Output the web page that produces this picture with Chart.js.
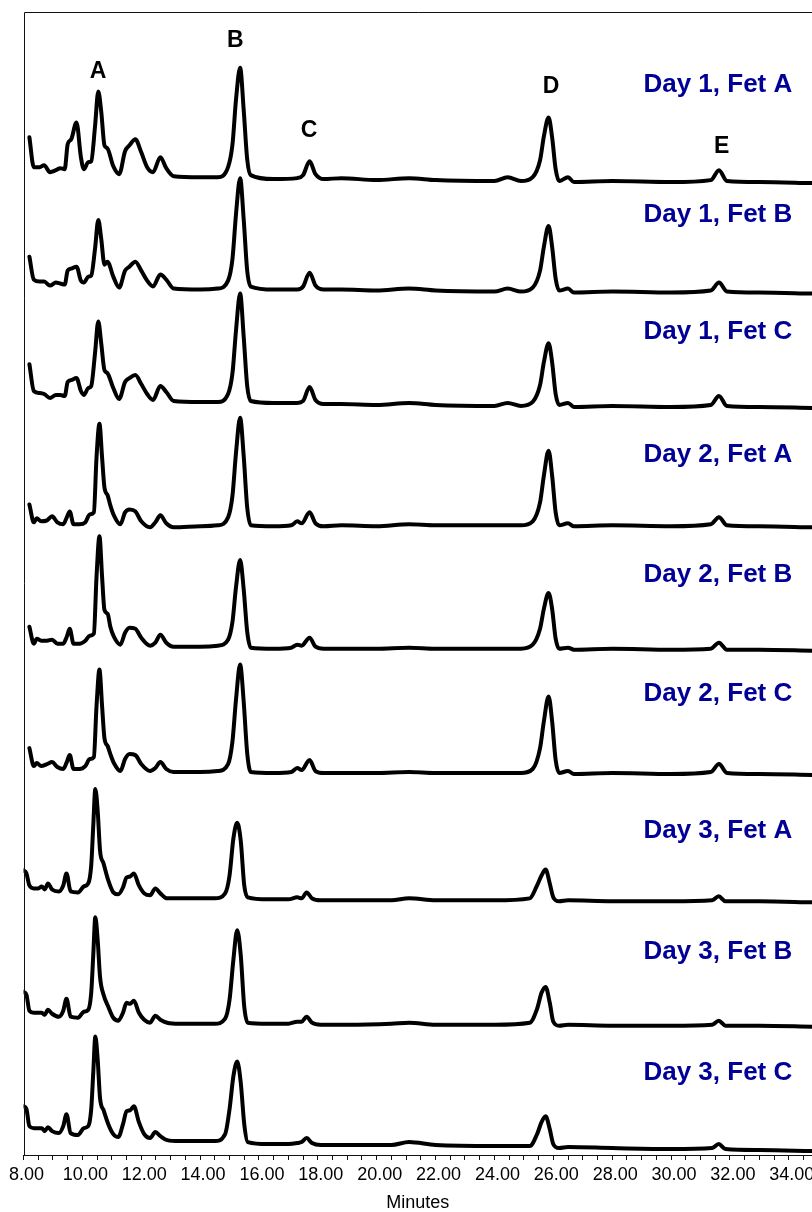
<!DOCTYPE html>
<html>
<head>
<meta charset="utf-8">
<script src="https://cdn.jsdelivr.net/npm/chart.js@4/dist/chart.umd.min.js"></script>
<style>
html,body{margin:0;padding:0;background:#fff;}
#wrap{width:812px;height:1212px;}
</style>
</head>
<body>
<div id="wrap"><canvas id="chart"></canvas></div>
<script>
// sample names, top to bottom
const sampleNames = ['Day 1, Fet A','Day 1, Fet B','Day 1, Fet C','Day 2, Fet A','Day 2, Fet B','Day 2, Fet C','Day 3, Fet A','Day 3, Fet B','Day 3, Fet C'];

// retention times (minutes) of the read points, one grid per day
const day1Times = [8.2,8.35,8.55,8.7,8.9,9.1,9.25,9.4,9.5,9.62,9.8,9.95,10.05,10.2,10.3,10.43,10.54,10.64,10.75,10.85,11.05,11.25,11.45,11.6,11.8,12.0,12.2,12.4,12.65,12.85,13.1,14.0,14.6,14.95,15.1,15.22,15.36,15.48,15.6,15.72,16.5,17.3,17.5,17.72,17.92,18.2,18.8,20.0,21.1,22.0,24.0,24.45,24.9,25.3,25.55,25.68,25.84,25.96,26.08,26.2,26.5,26.7,28.0,30.0,31.35,31.63,31.9,33.0,34.8];
const day2Times = [8.2,8.35,8.45,8.6,8.8,8.97,9.15,9.35,9.47,9.57,9.7,9.9,10.1,10.25,10.39,10.48,10.58,10.67,10.75,10.86,10.95,11.07,11.29,11.45,11.6,11.8,12.0,12.3,12.48,12.65,12.85,13.1,14.0,14.6,14.95,15.1,15.22,15.36,15.48,15.6,15.72,16.5,17.1,17.3,17.45,17.72,17.92,18.2,18.8,20.0,21.1,22.0,24.0,24.9,25.3,25.55,25.68,25.84,25.96,26.08,26.2,26.5,26.7,28.0,30.0,31.35,31.63,31.9,33.0,34.8];
const day3Times = [8.0,8.1,8.2,8.35,8.5,8.62,8.72,8.83,8.97,9.2,9.35,9.46,9.6,9.85,10.05,10.2,10.3,10.37,10.44,10.52,10.6,10.72,10.88,11.05,11.22,11.38,11.5,11.62,11.75,11.92,12.1,12.3,12.48,12.65,12.88,13.3,14.0,14.5,14.85,15.0,15.13,15.26,15.38,15.5,15.62,16.3,17.0,17.3,17.45,17.62,17.8,18.1,19.0,20.5,21.1,22.0,24.0,25.2,25.45,25.6,25.74,25.88,26.0,26.2,26.5,28.0,30.0,31.4,31.62,31.85,33.0,34.8];

// detector signal above each trace's own baseline
const d1FetA = [45,15,15,17,10,12,14,13,38,43,60,25,13,20,21,56,91,71,37,34,16,8,31,37,43,30,15,10,25,14,6,5,5,15,38,83,115,73,23,7,3,4,7,21,8,3,4,2,4,2,1,5,1,5,22,46,65,45,13,1,5,0,1,0,2,12,1,0,-1];
const d1FetB = [36,13,11,11,7,10,9,8,22,24,26,12,10,16,17,44,73,54,28,31,16,5,22,26,31,22,12,6,18,13,4,3,4,12,34,79,115,74,22,6,3,3,6,20,7,3,3,2,4,2,1,4,1,5,22,46,67,46,14,2,4,0,1,0,2,10,1,0,-1];
const d1FetC = [43,16,14,13,9,12,12,11,25,27,29,16,12,19,21,54,86,64,37,34,19,8,25,29,32,23,13,7,21,15,6,5,5,13,34,77,114,71,21,6,4,4,6,20,7,3,3,2,4,2,1,4,1,5,22,45,64,45,13,2,4,0,1,0,2,11,1,0,-1];
const d2FetA = [21,3,7,4,5,9,3,1,8,14,1,1,3,11,13,68,102,68,38,30,20,10,1,13,16,14,4,-2,3,10,2,-2,-1,0,8,30,73,108,70,18,0,-1,0,4,2,13,2,-1,0,-1,1,0,0,0,4,23,50,75,50,13,0,2,-1,0,-1,1,8,0,-1,-2];
const d2FetB = [22,5,10,8,8,9,5,5,12,20,5,5,8,13,15,72,113,72,39,35,22,12,4,16,21,20,11,3,6,14,6,2,2,3,9,27,62,89,60,17,1,0,1,4,3,11,2,0,0,0,1,0,0,0,4,20,40,56,40,10,0,1,-1,0,-1,0,6,-1,-1,-2];
const d2FetC = [25,7,10,7,9,11,6,4,11,18,4,4,7,14,16,67,104,67,35,27,19,10,2,14,19,18,9,2,5,11,4,1,1,2,9,32,74,109,72,20,1,0,1,5,3,13,2,0,0,0,1,0,0,0,4,25,52,77,52,13,0,2,-1,0,-1,1,9,0,-1,-2];
const d3FetA = [30,27,15,12,12,14,11,17,11,9,15,27,9,8,14,17,35,75,112,90,50,37,20,8,6,13,23,24,27,15,7,5,12,7,2,2,2,2,7,25,62,78,60,15,3,1,1,3,2,8,2,0,0,0,2,0,0,2,15,25,31,17,3,-1,0,-1,-1,0,4,-1,-1,-2];
const d3FetB = [33,30,14,12,12,12,10,15,11,8,14,26,8,7,13,15,32,70,108,85,48,30,18,7,4,12,22,21,24,12,5,2,9,5,2,1,1,1,6,25,65,95,70,18,2,1,1,3,3,8,2,0,0,1,2,0,0,2,16,32,38,22,3,-1,0,-1,-1,0,4,-1,-1,-2];
const d3FetC = [43,40,23,21,21,21,18,22,18,16,23,35,16,14,21,23,40,77,113,90,51,39,25,15,12,25,38,39,43,27,15,11,17,13,9,8,8,8,15,40,73,88,67,25,7,5,5,6,7,11,6,4,4,4,7,4,3,3,15,27,33,20,5,1,2,1,0,1,5,0,-1,-2];

// stacking offset of each trace and where its name sits above it
const traceOffsets = [978,867,752,633,509,384,256,131,6];
const labelLift = [91,71,68,64,67,72,63,66,69];

// peak letters
const peakNames = ['A','B','C','D','E'];
const peakTimes = [10.53,15.2,17.7,25.92,31.72];
const peakLabelLevel = [1083,1114,1023,1068,1007];

const majorTicks = [8,10,12,14,16,18,20,22,24,26,28,30,32,34];

const traceTimes = [day1Times,day1Times,day1Times,day2Times,day2Times,day2Times,day3Times,day3Times,day3Times];
const traceValues = [d1FetA,d1FetB,d1FetC,d2FetA,d2FetB,d2FetC,d3FetA,d3FetB,d3FetC];

const datasets = sampleNames.map((name, i) => ({
  label: name,
  data: traceTimes[i].map((t, j) => ({x: t, y: traceValues[i][j] + traceOffsets[i]})),
  borderColor: '#000',
  borderWidth: 4,
  borderJoinStyle: 'round',
  borderCapStyle: 'round',
  pointRadius: 0,
  cubicInterpolationMode: 'monotone',
  fill: false
}));

const fontFam = '"Liberation Sans", Arial, Helvetica, sans-serif';

const decor = {
  id: 'decor',
  afterDraw(chart) {
    const {ctx, chartArea: a, scales: {x, y}} = chart;
    ctx.save();
    // frame: top and left
    ctx.strokeStyle = '#111';
    ctx.lineWidth = 1;
    ctx.beginPath();
    ctx.moveTo(Math.round(a.left) + 0.5, a.bottom);
    ctx.lineTo(Math.round(a.left) + 0.5, Math.round(a.top) + 0.5);
    ctx.lineTo(a.right, Math.round(a.top) + 0.5);
    ctx.stroke();

    ctx.textBaseline = 'alphabetic';
    ctx.fillStyle = '#000';
    ctx.textAlign = 'center';
    ctx.font = 'bold 23px ' + fontFam;
    peakNames.forEach((n, i) => {
      ctx.fillText(n, x.getPixelForValue(peakTimes[i]), y.getPixelForValue(peakLabelLevel[i]));
    });

    ctx.fillStyle = '#000096';
    ctx.textAlign = 'right';
    ctx.font = 'bold 26px ' + fontFam;
    sampleNames.forEach((n, i) => {
      ctx.fillText(n, x.getPixelForValue(34.12), y.getPixelForValue(traceOffsets[i] + labelLift[i]));
    });
    ctx.restore();
  }
};

new Chart(document.getElementById('chart'), {
  type: 'line',
  data: {datasets: datasets},
  options: {
    responsive: true,
    maintainAspectRatio: false,
    animation: false,
    layout: {padding: {left: 23, top: 12, right: 0, bottom: 0}},
    plugins: {legend: {display: false}, tooltip: {enabled: false}},
    scales: {
      x: {
        type: 'linear',
        min: 8,
        max: 34.79,
        border: {display: true, color: '#111', width: 1},
        grid: {drawOnChartArea: false, drawTicks: true, tickLength: 5, color: '#111'},
        afterBuildTicks: scale => {
          const ticks = [];
          for (let v = 8; v <= 34.5; v += 0.5) ticks.push({value: v});
          scale.ticks = ticks;
        },
        ticks: {
          autoSkip: false, maxRotation: 0, minRotation: 0,
          padding: 6, labelOffset: 3, color: '#000',
          font: {family: fontFam, size: 18, lineHeight: 1},
          callback: v => majorTicks.includes(v) ? v.toFixed(2) : ''
        },
        title: {
          display: true, text: 'Minutes', color: '#000',
          font: {family: fontFam, size: 18, lineHeight: 1},
          padding: {top: 4, bottom: 0}
        }
      },
      y: {display: false, min: 0, max: 1149}
    }
  },
  plugins: [decor]
});
</script>
</body>
</html>
